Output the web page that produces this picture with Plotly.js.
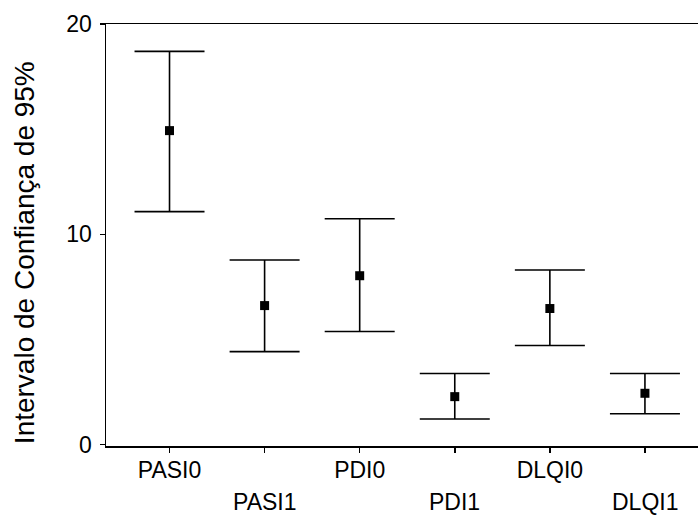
<!DOCTYPE html>
<html>
<head>
<meta charset="utf-8">
<script src="https://cdn.plot.ly/plotly-3.0.1.min.js"></script>
<style>html,body{margin:0;padding:0;background:#fff;}#chart{width:698px;height:515px;}</style>
</head>
<body>
<div id="chart"></div>
<script>
var categories = ["PASI0", "PASI1", "PDI0", "PDI1", "DLQI0", "DLQI1"];
var means = [14.93, 6.61, 8.03, 2.28, 6.47, 2.44];
var lower = [11.08, 4.42, 5.38, 1.22, 4.71, 1.47];
var upper = [18.70, 8.78, 10.74, 3.38, 8.30, 3.38];
var yTicks = [0, 10, 20];
var yTitle = "Intervalo de Confiança de 95%";

var idx = categories.map(function(c, i){ return i; });
var plus = upper.map(function(u, i){ return u - means[i]; });
var minus = lower.map(function(l, i){ return means[i] - l; });

var FONT = "Liberation Sans, Arial, sans-serif";

var trace = {
  x: idx,
  y: means,
  type: "scatter",
  mode: "markers",
  marker: {symbol: "square", size: 9, color: "#000"},
  error_y: {type: "data", symmetric: false, array: plus, arrayminus: minus,
            color: "#000", thickness: 1.6, width: 35},
  hoverinfo: "skip",
  showlegend: false
};

var annotations = [];
categories.forEach(function(c, i){
  if (i % 2 === 1) {
    annotations.push({x: i, y: 0, xref: "x", yref: "paper", text: c, showarrow: false,
      xanchor: "center", yanchor: "middle", yshift: -56, font: {family: FONT, size: 23, color: "#000"}});
  }
});
annotations.push({x: -0.1385, y: 0.457, xref: "paper", yref: "paper", text: yTitle, textangle: -90,
  showarrow: false, xanchor: "center", yanchor: "middle", font: {family: FONT, size: 28, color: "#000"}});

var layout = {
  width: 698, height: 515,
  margin: {l: 106, r: 0, t: 24, b: 69},
  paper_bgcolor: "#fff", plot_bgcolor: "#fff",
  font: {family: FONT, size: 23, color: "#000"},
  showlegend: false,
  xaxis: {
    range: [-0.668, 5.558], tickvals: idx,
    ticktext: categories.map(function(c, i){ return i % 2 === 0 ? c : ""; }),
    ticks: "outside", ticklen: 5, tickwidth: 1.5, tickcolor: "#000",
    showline: true, linecolor: "#000", linewidth: 1.5, mirror: true, ticklabelstandoff: -2,
    showgrid: false, zeroline: false, tickfont: {family: FONT, size: 23, color: "#000"}
  },
  yaxis: {
    range: [-0.067, 20], tickvals: yTicks, ticktext: yTicks.map(String),
    ticks: "outside", ticklen: 5, tickwidth: 1.5, tickcolor: "#000",
    showline: true, linecolor: "#000", linewidth: 1.5, ticklabelstandoff: 3,
    showgrid: false, zeroline: false, tickfont: {family: FONT, size: 23, color: "#000"}
  },
  annotations: annotations
};

Plotly.newPlot("chart", [trace], layout, {displayModeBar: false, staticPlot: true});
</script>
</body>
</html>
